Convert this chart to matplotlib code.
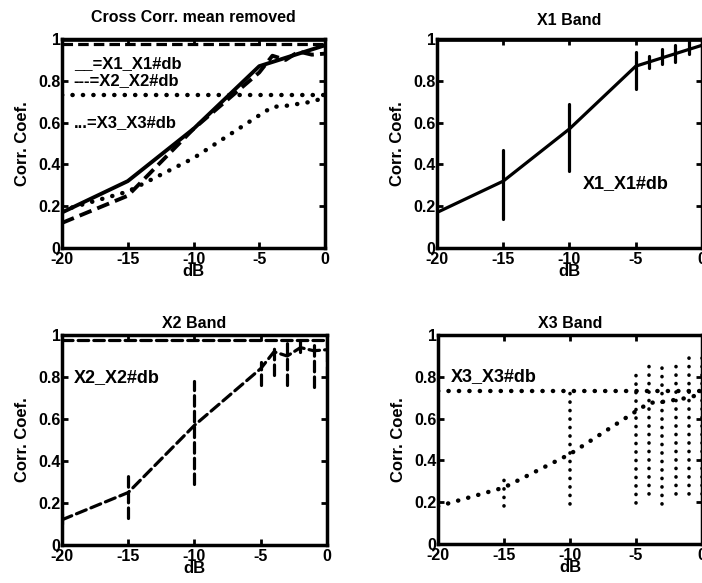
import numpy as np
import matplotlib
matplotlib.use("Agg")
import matplotlib.pyplot as plt

plt.rcParams['font.family'] = ['Liberation Sans', 'DejaVu Sans']
plt.rcParams['font.weight'] = 'bold'

# dB levels
db = [-20, -15, -10, -5, -4, -3, -2, -1, 0]

# mean correlation coefficient per band
x1_mean = [0.17, 0.32, 0.57, 0.87, 0.89, 0.91, 0.93, 0.95, 0.97]
x2_mean = [0.12, 0.25, 0.57, 0.84, 0.92, 0.90, 0.94, 0.925, 0.93]
x3_mean = [0.18, 0.27, 0.43, 0.635, 0.675, 0.68, 0.69, 0.70, 0.72]

# spread (low / high) per band
x1_lo = [0.17, 0.14, 0.37, 0.76, 0.86, 0.88, 0.89, 0.93, 0.96]
x1_hi = [0.17, 0.47, 0.69, 0.94, 0.92, 0.95, 0.97, 0.99, 0.99]
x2_lo = [0.10, 0.13, 0.29, 0.76, 0.81, 0.76, 0.92, 0.75, 0.80]
x2_hi = [0.15, 0.34, 0.78, 0.87, 0.95, 0.97, 0.97, 0.97, 1.00]
x3_lo = [0.12, 0.18, 0.19, 0.195, 0.24, 0.19, 0.24, 0.24, 0.24]
x3_hi = [0.24, 0.34, 0.72, 0.83, 0.875, 0.875, 0.875, 0.92, 0.90]

# reference (no noise) levels
x1_ref = 1.0
x2_ref = 0.975
x3_ref = 0.73

xticks = [-20, -15, -10, -5, 0]
yticks = [0, 0.2, 0.4, 0.6, 0.8, 1]
ytick_labels = ['0', '0.2', '0.4', '0.6', '0.8', '1']

LW = 2.3
DOT_LW = 3.2
styles = {
    'x1': '-',
    'x2': (0, (3.3, 1.6)),
    'x3': (0, (0.05, 2.3)),
}


def setup_axes(ax, title, title_pad):
    ax.set_xlim(-20, 0)
    ax.set_ylim(0, 1)
    ax.set_xticks(xticks)
    ax.set_xticklabels([str(t) for t in xticks])
    ax.set_yticks(yticks)
    ax.set_yticklabels(ytick_labels)
    ax.tick_params(direction='in', length=4, width=2, top=True, right=True,
                   labelsize=11.5, pad=1)
    ax.tick_params(axis='x', pad=3)
    for s in ax.spines.values():
        s.set_linewidth(2.5)
    ax.set_title(title, fontsize=11.5, fontweight='bold', pad=title_pad)
    ax.set_xlabel('dB', fontsize=12, fontweight='bold', labelpad=-2)
    ax.set_ylabel('Corr. Coef.', fontsize=12, fontweight='bold', labelpad=6)


def draw_band(ax, mean, lo, hi, ref, ls, lw):
    ax.axhline(ref, color='black', lw=lw, linestyle=ls, dash_capstyle='round')
    ax.plot(db, mean, color='black', lw=lw, linestyle=ls, dash_capstyle='round')
    ax.vlines(db, lo, hi, colors='black', lw=min(lw, 2.6), linestyles=[ls],
              capstyle='round')


fig = plt.figure(figsize=(7.02, 5.83), dpi=100)

ax1 = fig.add_axes([0.0883, 0.5746, 0.3747, 0.3585])
ax2 = fig.add_axes([0.6225, 0.5746, 0.3775, 0.3585])
ax3 = fig.add_axes([0.0883, 0.0652, 0.3775, 0.3602])
ax4 = fig.add_axes([0.6239, 0.0670, 0.3761, 0.3584])

# overview
setup_axes(ax1, 'Cross Corr. mean removed', 12)
ax1.axhline(x1_ref, color='black', lw=LW + 1)
ax1.axhline(x2_ref, color='black', lw=LW, linestyle=styles['x2'])
ax1.axhline(x3_ref, color='black', lw=DOT_LW, linestyle=styles['x3'],
            dash_capstyle='round')
ax1.plot(db, x1_mean, color='black', lw=LW + 0.5, linestyle=styles['x1'])
ax1.plot(db, x2_mean, color='black', lw=LW + 0.5, linestyle=styles['x2'])
ax1.plot(db, x3_mean, color='black', lw=DOT_LW, linestyle=styles['x3'],
         dash_capstyle='round')
ax1.text(-19.1, 0.884, '__=X1_X1#db', fontsize=12, fontweight='bold', va='center')
ax1.text(-19.1, 0.80, '---=X2_X2#db', fontsize=12, fontweight='bold', va='center')
ax1.text(-19.1, 0.60, '...=X3_X3#db', fontsize=12, fontweight='bold', va='center')

setup_axes(ax2, 'X1 Band', 10)
draw_band(ax2, x1_mean, x1_lo, x1_hi, x1_ref, styles['x1'], LW)
ax2.axhline(x1_ref, color='black', lw=LW + 1)
ax2.text(-9.0, 0.31, 'X1_X1#db', fontsize=13, fontweight='bold', va='center')

setup_axes(ax3, 'X2 Band', 5)
draw_band(ax3, x2_mean, x2_lo, x2_hi, x2_ref, styles['x2'], LW)
ax3.text(-19.1, 0.795, 'X2_X2#db', fontsize=13, fontweight='bold', va='center')

setup_axes(ax4, 'X3 Band', 5)
draw_band(ax4, x3_mean, x3_lo, x3_hi, x3_ref, styles['x3'], DOT_LW)
ax4.text(-19.0, 0.80, 'X3_X3#db', fontsize=13, fontweight='bold', va='center')

fig.savefig('out.png', dpi=100)
